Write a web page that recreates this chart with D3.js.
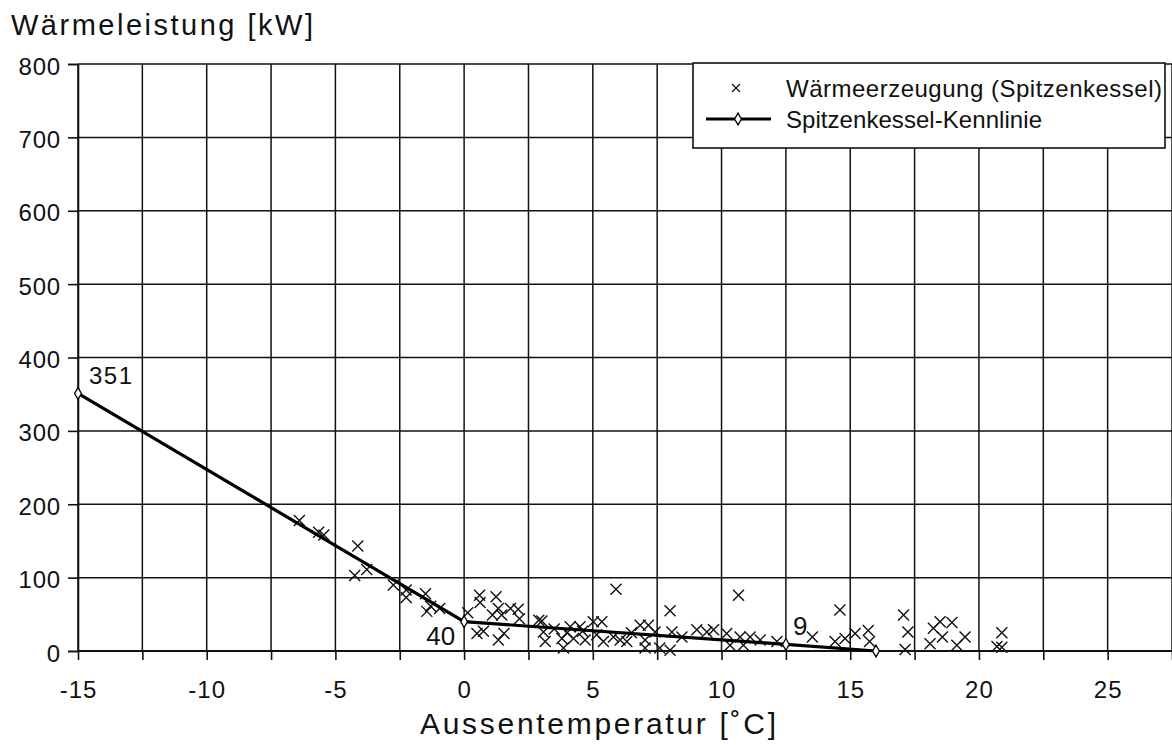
<!DOCTYPE html>
<html><head><meta charset="utf-8">
<script src="https://cdn.jsdelivr.net/npm/d3@7"></script>
<style>body{margin:0;background:#fff}svg{display:block}text{font-family:"Liberation Sans",Arial,sans-serif;fill:#111}</style>
</head><body><svg id="c" width="1172" height="745"></svg>
<script>
// Data
const xTicks = [-15,-10,-5,0,5,10,15,20,25];
const yTicks = [0,100,200,300,400,500,600,700,800];
const lineX = [-15, 0, 12.5, 16];
const lineY = [351, 40, 9, 0];
const labelTexts = ["351","40","9"];
const scatterX = [-6.4,-5.65,-5.45,-4.13,-4.25,-3.78,-2.75,-2.25,-2.25,-1.5,-1.45,-1.3,-0.95,
  0.14,0.6,0.62,1.24,1.1,1.33,1.46,1.8,2.1,2.15,0.5,0.75,1.33,1.55,2.9,
  5.9,8.0,10.66,14.6,
  3.02,3.08,3.15,3.8,3.86,4.12,4.25,4.5,4.7,5.02,5.35,5.15,5.41,5.8,6.06,6.32,6.84,7.16,7.03,7.03,7.42,8.0,8.07,8.46,9.04,9.43,9.69,10.2,10.33,10.72,11.11,10.85,11.5,12.15,7.6,4.0,4.6,6.5,3.5,
  13.53,14.41,14.8,15.19,15.7,15.75,17.07,17.24,17.13,18.1,18.23,18.49,18.95,18.58,19.14,19.46,20.89,20.7,20.89];
const scatterY = [178,162,158,143,103,111,90,83,73,78,54,61,58,
  52,76,66,74,49,58,49,58,57,44,24,27,15,24,42,
  84,55,76,56,
  41,26,13,17,4,33,17,33,15,40,40,22,13,19,15,13,35,35,15,4,26,1,26,19,29,26,29,24,8,19,19,8,15,13,4,25,27,25,30,
  19,13,17,24,28,13,49,26,2,10,31,40,39,19,8,19,25,6,5];
const legendItems = ["Wärmeerzeugung (Spitzenkessel)","Spitzenkessel-Kennlinie"];

const svg = d3.select("#c");
svg.append("rect").attr("width",1172).attr("height",745).attr("fill","#fff");
const x = d3.scaleLinear().domain([-15,27.5]).range([78,1172]);
const y = d3.scaleLinear().domain([0,800]).range([651,64]);

// grid
const gridX = d3.range(-15, 27.6, 2.5);
svg.append("g").selectAll("line").data(gridX).join("line")
  .attr("x1",d=>x(d)).attr("x2",d=>x(d)).attr("y1",y(0)).attr("y2",y(800))
  .attr("stroke","#111").attr("stroke-width",1.5);
svg.append("g").selectAll("line").data(yTicks).join("line")
  .attr("x1",x(-15)).attr("x2",1172).attr("y1",d=>y(d)).attr("y2",d=>y(d))
  .attr("stroke","#111").attr("stroke-width",d=>d===0?2:1.5);

// axes
const yAxis = d3.axisLeft(y).tickValues(yTicks).tickSize(10).tickPadding(7);
const gy = svg.append("g").attr("transform",`translate(${x(-15)},0)`).call(yAxis);
gy.select(".domain").attr("stroke","#111").attr("stroke-width",1.6);
gy.selectAll(".tick line").attr("stroke","#111").attr("stroke-width",1.6);
gy.selectAll("text").attr("font-size",24).attr("font-family","Liberation Sans").attr("fill","#111")
  .attr("letter-spacing",0.8).attr("dy","0.42em");

const xAxis = d3.axisBottom(x).tickValues(gridX).tickSize(9).tickPadding(21)
  .tickFormat(d=>xTicks.includes(d)?String(d):"");
const gx = svg.append("g").attr("transform",`translate(0,${y(0)})`).call(xAxis);
gx.select(".domain").remove();
gx.selectAll(".tick line").attr("stroke","#111").attr("stroke-width",1.6);
gx.selectAll("text").attr("font-size",24).attr("font-family","Liberation Sans").attr("fill","#111")
  .attr("letter-spacing",1);

// titles
svg.append("text").attr("x",11).attr("y",35).attr("font-size",29)
  .attr("textLength",302).attr("lengthAdjust","spacing").text("Wärmeleistung [kW]");
svg.append("text").attr("x",420).attr("y",734).attr("font-size",30)
  .attr("textLength",356).attr("lengthAdjust","spacing").text("Aussentemperatur [˚C]");

// scatter crosses
const cs = 5.5;
const sc = svg.append("g").attr("stroke","#111").attr("stroke-width",1.4);
scatterX.forEach((v,i)=>{
  const px = x(v), py = y(scatterY[i]);
  sc.append("path").attr("d",`M${px-cs},${py-cs}L${px+cs},${py+cs}M${px-cs},${py+cs}L${px+cs},${py-cs}`);
});

// line
const pts = lineX.map((v,i)=>[v,lineY[i]]);
svg.append("path").datum(pts)
  .attr("d",d3.line().x(d=>x(d[0])).y(d=>y(d[1])))
  .attr("fill","none").attr("stroke","#000").attr("stroke-width",3.2);
const diamond = d3.symbol().type(d3.symbolDiamond).size(40);
svg.append("g").selectAll("path").data(pts).join("path")
  .attr("transform",d=>`translate(${x(d[0])},${y(d[1])})`)
  .attr("d",diamond).attr("fill","#fff").attr("stroke","#000").attr("stroke-width",1.3);

// value labels
svg.append("text").attr("x",x(lineX[0])+11).attr("y",y(lineY[0])-9).attr("font-size",24).attr("letter-spacing",1.5).text(labelTexts[0]);
svg.append("text").attr("x",x(lineX[1])-9).attr("y",y(lineY[1])+23).attr("text-anchor","end").attr("font-size",26).text(labelTexts[1]);
svg.append("text").attr("x",x(lineX[2])+7).attr("y",y(lineY[2])-9).attr("font-size",26).text(labelTexts[2]);

// legend
const lg = svg.append("g");
lg.append("rect").attr("x",693).attr("y",63).attr("width",472).attr("height",85)
  .attr("fill","#fff").attr("stroke","#111").attr("stroke-width",1.6);
lg.append("path").attr("d","M732,84L740,92M732,92L740,84").attr("stroke","#111").attr("stroke-width",1.2);
lg.append("line").attr("x1",706).attr("x2",771).attr("y1",119).attr("y2",119).attr("stroke","#000").attr("stroke-width",3);
lg.append("path").attr("transform","translate(738,119)").attr("d",diamond).attr("fill","#fff").attr("stroke","#000").attr("stroke-width",1.3);
lg.append("text").attr("x",786).attr("y",97).attr("font-size",24)
  .attr("textLength",376).attr("lengthAdjust","spacing").text(legendItems[0]);
lg.append("text").attr("x",786).attr("y",128).attr("font-size",24)
  .attr("textLength",256).attr("lengthAdjust","spacing").text(legendItems[1]);
</script></body></html>
